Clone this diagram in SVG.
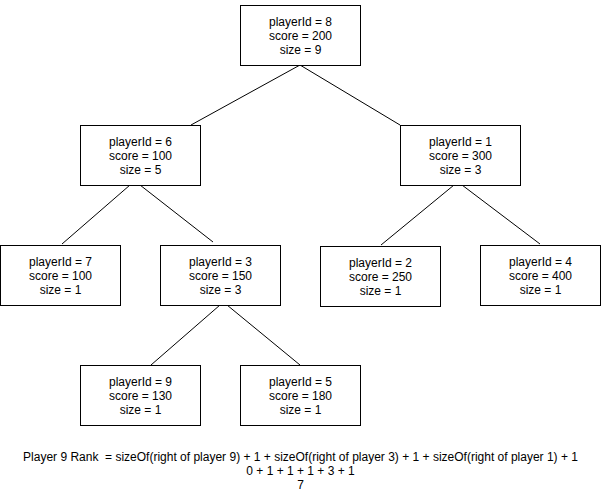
<svg xmlns="http://www.w3.org/2000/svg" width="601" height="496" viewBox="0 0 601 496">
<style>
.box{fill:#fff;stroke:#000;stroke-width:1}
.lbl{font-family:"Liberation Sans",Arial,sans-serif;font-size:12px;fill:#000;text-anchor:middle}
.edge{stroke:#000;stroke-width:1;fill:none}
</style>
<rect width="601" height="496" fill="#fff"/>
<g id="connectors">
<line class="edge" x1="300" y1="65" x2="191" y2="125"/>
<line class="edge" x1="300" y1="65" x2="400" y2="125"/>
<line class="edge" x1="130" y1="185" x2="62" y2="244"/>
<line class="edge" x1="140" y1="185" x2="213" y2="242"/>
<line class="edge" x1="454" y1="185" x2="381" y2="245"/>
<line class="edge" x1="462" y1="185" x2="540" y2="244"/>
<line class="edge" x1="220" y1="305" x2="151" y2="365"/>
<line class="edge" x1="227" y1="305" x2="300" y2="365"/>
</g>
<g id="node8"><rect class="box" x="240.5" y="5.5" width="120" height="60"/><text class="lbl"><tspan x="300.5" y="25.5">playerId = 8</tspan><tspan x="300.5" y="39.5">score = 200</tspan><tspan x="300.5" y="53.5">size = 9</tspan></text></g>
<g id="node6"><rect class="box" x="80.5" y="125.5" width="120" height="60"/><text class="lbl"><tspan x="140.5" y="145.5">playerId = 6</tspan><tspan x="140.5" y="159.5">score = 100</tspan><tspan x="140.5" y="173.5">size = 5</tspan></text></g>
<g id="node1"><rect class="box" x="400.5" y="125.5" width="120" height="60"/><text class="lbl"><tspan x="460.5" y="145.5">playerId = 1</tspan><tspan x="460.5" y="159.5">score = 300</tspan><tspan x="460.5" y="173.5">size = 3</tspan></text></g>
<g id="node7"><rect class="box" x="0.5" y="245.5" width="120" height="60"/><text class="lbl"><tspan x="60.5" y="265.5">playerId = 7</tspan><tspan x="60.5" y="279.5">score = 100</tspan><tspan x="60.5" y="293.5">size = 1</tspan></text></g>
<g id="node3"><rect class="box" x="160.5" y="245.5" width="120" height="60"/><text class="lbl"><tspan x="220.5" y="265.5">playerId = 3</tspan><tspan x="220.5" y="279.5">score = 150</tspan><tspan x="220.5" y="293.5">size = 3</tspan></text></g>
<g id="node2"><rect class="box" x="320.5" y="246.5" width="120" height="60"/><text class="lbl"><tspan x="380.5" y="266.5">playerId = 2</tspan><tspan x="380.5" y="280.5">score = 250</tspan><tspan x="380.5" y="294.5">size = 1</tspan></text></g>
<g id="node4"><rect class="box" x="480.5" y="245.5" width="120" height="60"/><text class="lbl"><tspan x="540.5" y="265.5">playerId = 4</tspan><tspan x="540.5" y="279.5">score = 400</tspan><tspan x="540.5" y="293.5">size = 1</tspan></text></g>
<g id="node9"><rect class="box" x="80.5" y="365.5" width="120" height="60"/><text class="lbl"><tspan x="140.5" y="385.5">playerId = 9</tspan><tspan x="140.5" y="399.5">score = 130</tspan><tspan x="140.5" y="413.5">size = 1</tspan></text></g>
<g id="node5"><rect class="box" x="240.5" y="365.5" width="120" height="60"/><text class="lbl"><tspan x="300.5" y="385.5">playerId = 5</tspan><tspan x="300.5" y="399.5">score = 180</tspan><tspan x="300.5" y="413.5">size = 1</tspan></text></g>
<g id="formula"><text class="lbl" xml:space="preserve" style="white-space:pre"><tspan x="300.5" y="460.5">Player 9 Rank  = sizeOf(right of player 9) + 1 + sizeOf(right of player 3) + 1 + sizeOf(right of player 1) + 1</tspan><tspan x="300.5" y="474.5">0 + 1 + 1 + 1 + 3 + 1</tspan><tspan x="300.5" y="488.5">7</tspan></text></g>
</svg>
